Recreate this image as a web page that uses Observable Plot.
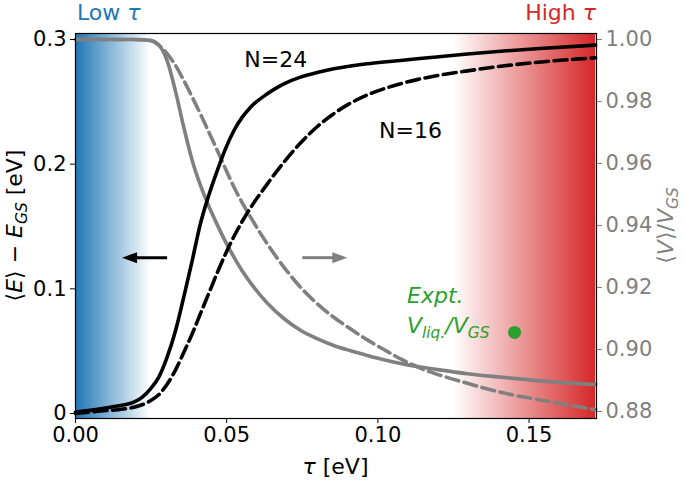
<!DOCTYPE html>
<html><head><meta charset="utf-8">
<script src="https://cdn.jsdelivr.net/npm/d3@7"></script>
<script src="https://cdn.jsdelivr.net/npm/@observablehq/plot@0.6"></script>
<style>body{margin:0;background:#fff}</style>
</head><body><div id="chart"></div>
<script>
// ---- data ----
const tau = [0, 0.0083, 0.0138, 0.0193, 0.0220, 0.0248, 0.0275, 0.0303, 0.0331, 0.0358, 0.0386, 0.0413, 0.0441, 0.0469, 0.0496, 0.0524, 0.0551, 0.0579, 0.0634, 0.0689, 0.0744, 0.0799, 0.0854, 0.0910, 0.0965, 0.1020, 0.1075, 0.1130, 0.1185, 0.1296, 0.1406, 0.1550, 0.1720];
const energyN24 = [0.001, 0.0037, 0.006, 0.0091, 0.013, 0.0198, 0.029, 0.0452, 0.0666, 0.0933, 0.1227, 0.1521, 0.1752, 0.1949, 0.2123, 0.2270, 0.2375, 0.2457, 0.2564, 0.2644, 0.2698, 0.2735, 0.2765, 0.2787, 0.2805, 0.2819, 0.2831, 0.2845, 0.2858, 0.2884, 0.2906, 0.2930, 0.2955];
const energyN16 = [0.0, 0.002, 0.003, 0.005, 0.007, 0.0102, 0.015, 0.0235, 0.035, 0.049, 0.064, 0.080, 0.0965, 0.113, 0.128, 0.142, 0.154, 0.165, 0.184, 0.2015, 0.2170, 0.2300, 0.2405, 0.2490, 0.2555, 0.2605, 0.2645, 0.2678, 0.2705, 0.2748, 0.2785, 0.2822, 0.2853];
const volumeN24 = [1.0, 1.0, 1.0, 1.0, 0.9999, 0.9997, 0.9983, 0.9932, 0.9832, 0.9717, 0.9610, 0.9530, 0.9462, 0.9402, 0.9348, 0.9298, 0.9254, 0.9215, 0.9150, 0.9100, 0.9062, 0.9035, 0.9013, 0.8996, 0.8981, 0.8967, 0.8955, 0.8945, 0.8937, 0.8922, 0.8911, 0.8898, 0.8887];
const volumeN16 = [1.0, 1.0, 1.0, 1.0, 0.9999, 0.9997, 0.9982, 0.9954, 0.9916, 0.9868, 0.9814, 0.9760, 0.9701, 0.9642, 0.9583, 0.9524, 0.9474, 0.9427, 0.9341, 0.9266, 0.9201, 0.9148, 0.9104, 0.9066, 0.9031, 0.9000, 0.8970, 0.8944, 0.8924, 0.8891, 0.8862, 0.8835, 0.8806];
const exptTau = [0.1452];
const exptVolume = [0.9055];
const xTicks = [0, 0.05, 0.10, 0.15];
const leftTicks = [0, 0.1, 0.2, 0.3];
const rightTicks = [0.88, 0.90, 0.92, 0.94, 0.96, 0.98, 1.00];
const lowBand = [0, 0.025];
const highBand = [0.125, 0.172];
const curveLabels = [{text: "N=24", t: 0.0662, e: 0.2823}, {text: "N=16", t: 0.1108, e: 0.2248}];
const arrowSpecs = [
  {tail: 0.0303, base: 0.0200, tip: 0.0154, e: 0.125, color: "black", dir: 180},
  {tail: 0.0750, base: 0.0853, tip: 0.0899, e: 0.125, color: "#808080", dir: 0}
];
const exptLabel = {t: 0.1098, e1: 0.0882, e2: 0.0642};

(function () {
// ---- twin-axis mapping: V/VGS -> left (energy) coordinates ----
const vLo = 0.88, vHi = 1.00, eAtVLo = 0.0016, eAtVHi = 0.3;
const vToE = v => eAtVLo + (v - vLo) / (vHi - vLo) * (eAtVHi - eAtVLo);
const eToV = e => vLo + (e - eAtVLo) / (eAtVHi - eAtVLo) * (vHi - vLo);

const rows = tau.map((t, i) => ({t, e24: energyN24[i], e16: energyN16[i], v24: vToE(volumeN24[i]), v16: vToE(volumeN16[i])}));
const expt = exptTau.map((t, i) => ({t, v: vToE(exptVolume[i])}));

const FS = 21;
const GRAY = "#808080";
const LW = 3.6;

// arrowhead symbol: tip at origin, pointing right
const arrowHead = {draw(ctx, size) {
  const r = Math.sqrt(size / Math.PI);
  ctx.moveTo(0, 0); ctx.lineTo(-1.5 * r, -0.55 * r); ctx.lineTo(-1.5 * r, 0.55 * r); ctx.closePath();
}};

const plot = Plot.plot({
  width: 685, height: 480,
  marginLeft: 75, marginRight: 89, marginTop: 33, marginBottom: 62,
  style: {fontFamily: "DejaVu Sans", fontSize: FS + "px", background: "white", color: "black"},
  x: {domain: [0, 0.1723]},
  y: {domain: [-0.0040, 0.3048]},
  marks: [
    Plot.rect([lowBand], {x1: d => d[0], x2: d => d[1], fill: "url(#gradBlue)"}),
    Plot.rect([highBand], {x1: d => d[0], x2: d => d[1], fill: "url(#gradRed)"}),
    Plot.line(rows, {x: "t", y: "v16", stroke: GRAY, strokeWidth: LW, strokeDasharray: "13,5.6", curve: "monotone-x"}),
    Plot.line(rows, {x: "t", y: "v24", stroke: GRAY, strokeWidth: LW, curve: "monotone-x"}),
    Plot.line(rows, {x: "t", y: "e16", stroke: "black", strokeWidth: LW, strokeDasharray: "13,5.6", curve: "monotone-x"}),
    Plot.line(rows, {x: "t", y: "e24", stroke: "black", strokeWidth: LW, curve: "monotone-x"}),
    Plot.link(arrowSpecs, {x1: "tail", x2: "base", y1: "e", y2: "e", stroke: "color", strokeWidth: 3}),
    Plot.dot(arrowSpecs, {x: "tip", y: "e", fill: "color", stroke: null, symbol: arrowHead, r: 10, rotate: "dir"}),
    Plot.dot(expt, {x: "t", y: "v", r: 6.5, fill: "#2ca02c", stroke: null}),
    Plot.text(curveLabels, {x: "t", y: "e", text: "text", fontSize: 22, lineAnchor: "bottom", fill: "black", dy: 5}),
    Plot.axisX(xTicks, {tickFormat: d3.format(".2f"), tickSize: 5, tickPadding: 4, label: null, fontSize: FS}),
    Plot.axisY(leftTicks, {anchor: "left", tickFormat: d => d === 0 ? "0" : d3.format(".1f")(d), tickSize: 5, tickPadding: 4, label: null, fontSize: FS}),
    Plot.axisY(rightTicks.map(vToE), {anchor: "right", tickFormat: d => d3.format(".2f")(eToV(d)), tickSize: 5, tickPadding: 4, label: null, fontSize: FS, color: GRAY}),
    Plot.frame({stroke: "black", strokeWidth: 1.2})
  ]
});

const ns = "http://www.w3.org/2000/svg";
const svg = plot.tagName.toLowerCase() === "svg" ? plot : plot.querySelector("svg");

// gradients
const defs = document.createElementNS(ns, "defs");
function grad(id, color, o1, o2) {
  const g = document.createElementNS(ns, "linearGradient");
  g.setAttribute("id", id); g.setAttribute("x1", "0"); g.setAttribute("x2", "1"); g.setAttribute("y1", "0"); g.setAttribute("y2", "0");
  [[0, o1], [1, o2]].forEach(([off, op]) => {
    const s = document.createElementNS(ns, "stop");
    s.setAttribute("offset", off); s.setAttribute("stop-color", color); s.setAttribute("stop-opacity", op);
    g.appendChild(s);
  });
  defs.appendChild(g);
}
grad("gradBlue", "#1f77b4", 1, 0);
grad("gradRed", "#d62728", 0, 1);
svg.insertBefore(defs, svg.firstChild);

// rich text helper (math-like labels)
function addText({x, y, anchor = "start", fill = "black", size = FS, rotate = 0, parts}) {
  const t = document.createElementNS(ns, "text");
  t.setAttribute("x", x); t.setAttribute("y", y);
  t.setAttribute("text-anchor", anchor); t.setAttribute("fill", fill);
  t.setAttribute("font-size", size); t.setAttribute("font-family", "DejaVu Sans");
  if (rotate) t.setAttribute("transform", `rotate(${rotate} ${x} ${y})`);
  let shifted = 0;
  for (const p of parts) {
    const s = document.createElementNS(ns, "tspan");
    s.textContent = p.t;
    if (p.i) s.setAttribute("font-style", "italic");
    const want = p.sub ? size * 0.22 : 0;
    if (want !== shifted) { s.setAttribute("dy", want - shifted); shifted = want; }
    if (p.sub) s.setAttribute("font-size", size * 0.7);
    t.appendChild(s);
  }
  svg.appendChild(t);
}

const sx = plot.scale("x"), sy = plot.scale("y");
const X = v => sx.apply(v), Y = v => sy.apply(v);
const mLeft = 75, mRight = 685 - 89, mTop = 33, mBottom = 480 - 62, midY = (mTop + mBottom) / 2, midX = (mLeft + mRight) / 2;

addText({x: mLeft + 2, y: 20, fill: "#1f77b4", size: 22, parts: [{t: "Low "}, {t: "τ", i: true}]});
addText({x: mRight, y: 20, anchor: "end", fill: "#d62728", size: 22, parts: [{t: "High "}, {t: "τ", i: true}]});
addText({x: midX, y: 474, anchor: "middle", size: 22, parts: [{t: "τ", i: true}, {t: " [eV]"}]});
addText({x: 22, y: midY, anchor: "middle", rotate: -90, size: 22, parts: [{t: "⟨"}, {t: "E", i: true}, {t: "⟩ − "}, {t: "E", i: true}, {t: "GS", i: true, sub: true}, {t: " [eV]"}]});
addText({x: 673, y: midY, anchor: "middle", rotate: -90, fill: GRAY, size: 22, parts: [{t: "⟨"}, {t: "V", i: true}, {t: "⟩/"}, {t: "V", i: true}, {t: "GS", i: true, sub: true}]});
addText({x: X(exptLabel.t), y: Y(exptLabel.e1), fill: "#2ca02c", size: 22, parts: [{t: "Expt.", i: true}]});
addText({x: X(exptLabel.t), y: Y(exptLabel.e2), fill: "#2ca02c", size: 22, parts: [{t: "V", i: true}, {t: "liq.", i: true, sub: true}, {t: "/V", i: true}, {t: "GS", i: true, sub: true}]});

document.getElementById("chart").appendChild(plot);
})();
</script>
</body></html>
